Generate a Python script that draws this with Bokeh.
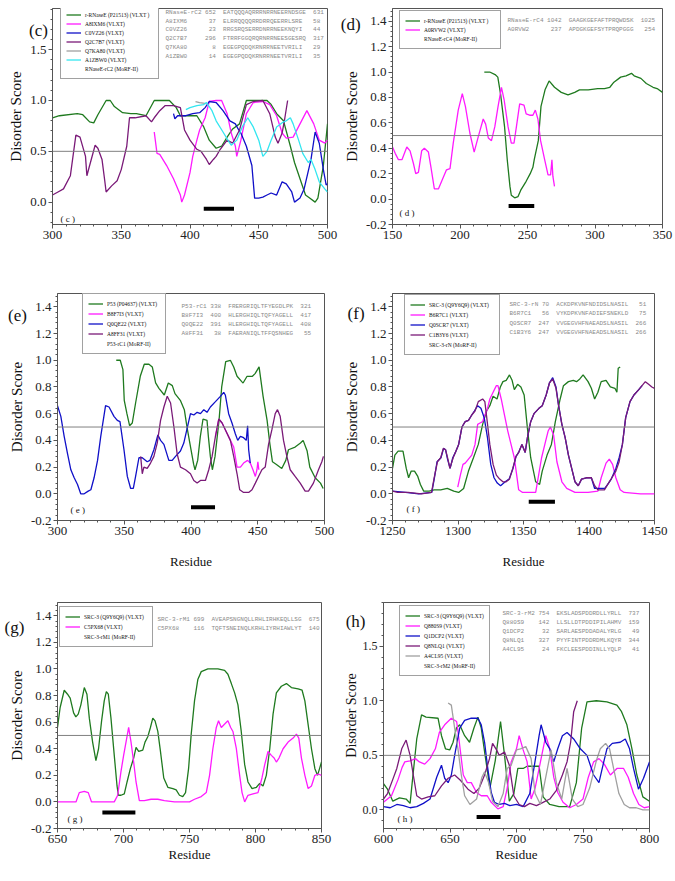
import numpy as np
from bokeh.plotting import figure
from bokeh.models import (Span, Label, Legend, LegendItem, FixedTicker,
                          PrintfTickFormatter, Range1d)
from bokeh.layouts import column, row
from bokeh.embed import file_html
from bokeh.resources import INLINE

# ---------------- DATA ----------------
# (c)
c_green_x = [300,305,318,322,327,330,333,339,342,345,351,357,361,368,374,385,390,393,397,405,410,414,419,423,427,431,436,441,456,459,463,468,473,476,480,484,487,491,493,497,500]
c_green_y = [0.83,0.85,0.87,0.86,0.79,0.78,0.86,1.0,1.0,0.94,0.88,0.87,0.87,0.85,1.0,1.0,0.93,0.85,0.85,0.85,0.74,0.61,0.53,0.55,0.64,0.72,0.77,1.0,1.0,0.96,0.87,0.80,0.55,0.39,0.23,0.07,0.04,0.0,0.04,0.36,0.77]
c_mag_x = [374,376,378,383,388,393,394,396,400,402,405,407,411,414,419,423,427,430,433,434,437,441,446,453,458,463,467,470,475,480,485,490,494,498,500]
c_mag_y = [0.69,0.48,0.47,0.36,0.23,0.07,0.0,0.07,0.29,0.45,0.61,0.71,0.83,0.99,1.0,1.0,0.87,0.68,0.55,0.45,0.61,0.87,0.98,0.99,0.96,0.85,0.68,0.63,0.64,0.77,0.90,0.77,0.61,0.58,0.61]
c_blue_x = [388,389,391,397,402,407,411,414,419,424,429,433,435,437,441,445,447,450,453,456,459,463,467,470,474,476,480,483,488,491,494,497,499,500]
c_blue_y = [0.87,0.82,0.85,0.85,0.87,0.88,0.93,0.99,0.98,0.90,0.80,0.77,0.72,0.68,0.55,0.36,0.04,0.04,0.05,0.07,0.09,0.07,0.20,0.18,0.10,0.0,0.04,0.13,0.42,0.69,0.58,0.32,0.17,0.18]
c_purp_x = [300,304,308,313,317,320,324,325,327,331,333,336,338,339,343,347,350,354,356,360,368,372,374,378,382,388,393,396,400,405,408,412,414,417,419,422,427,431,436,441,446,453,458,462,464,467,469,471]
c_purp_y = [0.07,0.10,0.13,0.26,0.66,0.64,0.45,0.26,0.36,0.56,0.53,0.42,0.21,0.10,0.16,0.21,0.32,0.55,0.83,0.83,0.85,0.79,0.83,0.90,0.95,0.95,0.93,0.71,0.61,0.52,0.50,0.42,0.37,0.42,0.45,0.52,0.61,0.58,0.71,0.96,0.99,1.0,0.87,0.64,0.58,0.68,0.83,1.0]
c_gray_x = [404,407,412]
c_gray_y = [0.99,0.98,0.97]
c_cyan_x = [397,400,405,410,412,416,419,424,428,430,434,438,442,446,450,453,456,459,463,468,470,473,475,479,482,486,488,491,494,498,500]
c_cyan_y = [0.91,0.93,0.95,0.96,0.98,0.90,0.80,0.69,0.60,0.56,0.61,0.74,0.83,0.74,0.61,0.45,0.50,0.61,0.74,0.79,0.80,0.83,0.77,0.61,0.48,0.39,0.42,0.32,0.20,0.13,0.10]
c_bar_x = [410, 432]
c_labels = ["r-RNaseE (P21513) (VLXT )", "A8IXM6 (VLXT)", "C0VZ26 (VLXT)", "Q2C7B7 (VLXT)",
            "Q7KA80 (VLXT)", "A1ZBW0 (VLXT)", "RNaseE-rC2 (MoRF-II)"]
c_align = ["RNaseE-rC2 652  EATQQQAQRRRNRRNEERNDSGE  631",
           "A8IXM6      37  ELRRQQQQRRDRRQEERRLSRE   58",
           "C0VZ26      23  RRGSRQSERRDNRRNEEKNQYI   44",
           "Q2C7B7     296  FTRRFGGQRQRNRRNEESGESRQ  317",
           "Q7KA80       8  EGEGPQDQKRNRRNEETVRILI   29",
           "A1ZBW0      14  EGEGPQDQKRNRRNEETVRILI   35"]

# (d)
d_green_x = [218,222,226,228,230,233,235,237,238,240.5,243,245,249,252,254,255,258,260,263,266,270,275,280,285,288.5,295,302,307,311,314,319,323,327,329,334,338,343,346,350]
d_green_y = [1.0,1.0,0.98,0.96,0.83,0.57,0.31,0.10,0.03,0.01,0.02,0.07,0.14,0.20,0.25,0.31,0.46,0.73,0.86,0.93,0.88,0.84,0.82,0.84,0.86,0.86,0.87,0.87,0.88,0.92,0.96,0.97,0.99,0.97,0.95,0.91,0.88,0.87,0.84]
d_mag_x = [150,152,154.4,157,160.6,163,165.5,167.2,169.2,171.6,173.6,176.6,178.5,181,184,186.4,190,192.6,195,198.7,201.7,204,207.3,210.5,213.5,217.2,219,221,223.3,225.8,228.2,230.7,232.7,235.6,238,240,241.8,244.2,247.4,249,251.6,254,255.8,257.7,259.7,262.7,265.2,267.1,268.1,268.8,270]
d_mag_y = [0.41,0.36,0.31,0.31,0.41,0.38,0.28,0.20,0.21,0.38,0.40,0.37,0.25,0.08,0.08,0.14,0.23,0.24,0.44,0.70,0.83,0.73,0.52,0.37,0.49,0.63,0.59,0.48,0.46,0.57,0.73,0.88,0.78,0.57,0.44,0.44,0.57,0.75,0.74,0.67,0.66,0.66,0.70,0.63,0.46,0.31,0.19,0.19,0.31,0.18,0.10]
d_bar_x = [236, 255]
d_labels = ["r-RNaseE (P21513) (VLXT )", "A0RVW2 (VLXT)", "RNaseE-rC4 (MoRF-II)"]
d_align = ["RNaseE-rC4 1042  GAAGKGEFAFTPRQWDSK  1025",
           "A0RVW2      237  APDGKGEFSYTPRQPGGG   254"]

# (e)
e_green_x = [344,347,349,350,352,354,356,358.5,362,365,368.5,371,373.5,376,380,383,386,388,392,395,397,400,402,403,405,407,409,412,413,414.5,416,418,421,423,426,429.5,432,434.5,438,439,442,446,448,451,454,457,459,461,464,468,471,473,478,482,484,487,489,493,497,499]
e_green_y = [1.0,1.0,0.93,0.70,0.60,0.51,0.53,0.68,0.88,0.97,0.97,0.95,0.83,0.79,0.74,0.83,0.81,0.75,0.70,0.63,0.50,0.33,0.22,0.18,0.25,0.43,0.56,0.55,0.43,0.28,0.18,0.28,0.55,0.80,0.99,1.0,0.95,0.88,0.84,0.83,0.88,0.88,0.90,0.95,0.73,0.55,0.38,0.24,0.22,0.19,0.25,0.33,0.35,0.38,0.40,0.32,0.20,0.12,0.08,0.04]
e_mag_x = [418.3,420.8,423.3,425.7,429.5,432,434.5,437,439.4,442.4,444.4,446.4,448.2,449.4,450.1,450.8]
e_mag_y = [0.43,0.56,0.53,0.48,0.40,0.35,0.20,0.20,0.23,0.25,0.23,0.18,0.13,0.18,0.24,0.18]
e_blue_x = [300,302.5,305,307.5,310,312.5,315,317.4,320,323,325,327.4,330,332.4,336,338.6,342.3,344.8,346.8,349.8,352.3,354.8,356.8,358.5,361,363.5,367.2,369.2,372.2,375.2,377.2,379.7,383.4,385.9,388.4,392.1,394.6,397.1,399.6,402.1,404.6,407.1,409.6,412,414.5,418.3,422,424.5,425.7,428.2,430.7,433.2,435,437,439.4,441.4,442.4,443.2,444.4]
e_blue_y = [0.66,0.58,0.43,0.30,0.18,0.12,0.07,0.0,0.0,0.02,0.03,0.12,0.25,0.43,0.66,0.65,0.58,0.55,0.54,0.33,0.13,0.04,0.04,0.13,0.27,0.27,0.24,0.25,0.33,0.44,0.40,0.37,0.25,0.25,0.28,0.32,0.38,0.49,0.60,0.59,0.61,0.60,0.63,0.61,0.65,0.69,0.73,0.76,0.74,0.60,0.53,0.45,0.40,0.43,0.42,0.40,0.51,0.33,0.23]
e_purp_x = [362.3,363.5,364.7,367.2,369.7,372.2,374.7,377.2,379.7,382.2,384.7,387.2,389.6,392.1,395.9,399.6,402.1,404.6,407.1,410.8,413.3,415.8,418.3,420.8,423.3,425.7,429.5,432,434.5,436.5,439.4,443.2,445.7,448.2,450.6,453.1,455.6,458.1,460.6,463.1,464.8,466.8,469.3,471.8,474.3,478,481.8,485.5,488,491.7,495.5,498,499.2]
e_purp_y = [0.28,0.15,0.20,0.19,0.23,0.28,0.38,0.55,0.65,0.73,0.68,0.50,0.30,0.20,0.18,0.15,0.10,0.08,0.10,0.10,0.18,0.28,0.43,0.56,0.53,0.48,0.40,0.28,0.15,0.03,0.01,0.01,0.03,0.08,0.13,0.18,0.20,0.37,0.48,0.60,0.63,0.58,0.40,0.28,0.18,0.13,0.08,0.02,0.02,0.08,0.18,0.24,0.28]
e_bar_x = [400, 418]
e_labels = ["P53 (P04637) (VLXT)", "B8F7I3 (VLXT)", "Q0QE22 (VLXT)", "A8FF31 (VLXT)", "P53-rC1 (MoRF-II)"]
e_align = ["P53-rC1 338  FRERGRIQLTFYEGDLPK  321",
           "B8F7I3  400  HLERGHIQLTQFYAGELL  417",
           "Q0QE22  391  HLERGHIQLTQFYAGELL  408",
           "A8FF31   38  FAERANIQLTFFQSNHEG   55"]

# (f)
f_green_x = [1250,1251.8,1254.3,1258,1260.5,1262.3,1264.3,1266.8,1269.3,1271.3,1273.8,1278,1281.8,1286.8,1291.8,1296.8,1300.5,1304.3,1308,1311.8,1315.5,1318.8,1321.8,1324.3,1326.8,1329.8,1332.3,1334.3,1336.8,1339.3,1341.3,1343,1345.5,1348,1350.5,1353,1355.5,1359.3,1362.3,1364.3,1368,1371.3,1374.3,1378,1380.5,1384.3,1388,1390.5,1393,1395.5,1399.3,1401.8,1404.3,1406.8,1409.3,1413,1416.3,1419.8,1421.3,1422.3,1423.8]
f_green_y = [0.19,0.29,0.32,0.32,0.19,0.12,0.17,0.17,0.13,0.07,0.02,0.02,0.03,0.03,0.04,0.02,0.01,0.04,0.17,0.27,0.37,0.52,0.62,0.66,0.73,0.71,0.80,0.84,0.85,0.89,0.85,0.78,0.82,0.80,0.74,0.49,0.27,0.09,0.07,0.17,0.29,0.37,0.54,0.71,0.81,0.84,0.85,0.84,0.86,0.89,0.84,0.79,0.71,0.76,0.84,0.85,0.80,0.79,0.76,0.94,0.95]
f_mag_x = [1299.8,1301.8,1303.8,1305.5,1308,1310.5,1313,1315,1316.8,1318.8,1320.5,1322.3,1324.3,1326.8,1329.3,1330.5,1333,1335.5,1338,1340.5,1343,1344.8,1346.3,1349.3,1354.3,1359.3,1363.8,1366.8,1368.8,1370.5,1373,1375.5,1379.3,1383,1389.3,1399.3,1406.8,1409.3,1413,1415.5,1418,1420.5,1423.8,1426.8,1439.3,1450]
f_mag_y = [0.05,0.14,0.22,0.23,0.26,0.29,0.37,0.52,0.53,0.54,0.59,0.63,0.71,0.76,0.81,0.81,0.71,0.59,0.47,0.37,0.27,0.14,0.03,0.01,0.01,0.01,0.27,0.39,0.47,0.50,0.44,0.24,0.09,0.04,0.01,0.01,0.02,0.12,0.23,0.26,0.22,0.12,0.03,0.01,0.0,0.0]
f_blue_x = [1250,1260,1270,1280,1282,1284,1287,1289,1290.5,1292,1294,1296,1298,1300.5,1303,1305.5,1308,1310.5,1312.5,1315,1317.5,1320,1322.5,1325,1327.5,1330,1332.5,1336,1339,1342,1344.3,1346.3,1348.8,1351.3,1353,1355.5,1358,1361.8,1364.3,1367.3,1369.8,1372.3,1374.8,1376.8,1379.3,1381.8,1384.3,1387.3,1389.3,1391.8,1394.3,1398,1401.8,1404.3,1408,1412,1414.3,1417,1420.5,1423,1425.5,1428,1431.3,1434.3,1438,1440.5]
f_blue_y = [0.02,0.01,0.0,0.01,0.12,0.24,0.27,0.34,0.33,0.26,0.19,0.27,0.31,0.37,0.50,0.54,0.55,0.59,0.62,0.66,0.64,0.57,0.42,0.22,0.12,0.08,0.06,0.09,0.11,0.19,0.28,0.31,0.37,0.31,0.42,0.54,0.60,0.64,0.66,0.74,0.83,0.87,0.80,0.66,0.52,0.42,0.29,0.17,0.09,0.06,0.11,0.12,0.12,0.04,0.04,0.04,0.07,0.11,0.19,0.27,0.37,0.57,0.69,0.74,0.78,0.81]
f_purp_x = [1250,1254,1262,1272,1279.8,1281.8,1284.3,1286.8,1288.8,1290.5,1292.3,1293.8,1296.3,1298,1300.5,1303,1305.5,1308,1310.5,1313,1315.5,1318.8,1320.5,1322.3,1324.3,1326.8,1329.3,1331.8,1334.3,1336.8,1339.3,1341.8,1344.3,1346.3,1348.8,1351.3,1353,1355.5,1358,1361.8,1364.3,1367.3,1369.8,1372.3,1374.8,1376.8,1379.3,1381.8,1384.3,1387.3,1389.3,1391.8,1394.3,1398,1401.8,1404.3,1406.8,1411.8,1414.3,1416.8,1420.5,1423,1425.5,1428,1431.3,1434.3,1438,1440.5,1443,1445.5,1448,1450]
f_purp_y = [0.02,0.01,0.01,0.0,0.01,0.12,0.24,0.27,0.34,0.33,0.26,0.19,0.27,0.31,0.37,0.50,0.54,0.55,0.59,0.62,0.69,0.71,0.69,0.54,0.37,0.22,0.14,0.11,0.09,0.09,0.11,0.19,0.28,0.31,0.37,0.31,0.42,0.54,0.60,0.64,0.66,0.74,0.83,0.86,0.79,0.66,0.52,0.42,0.29,0.17,0.09,0.06,0.11,0.12,0.12,0.06,0.03,0.03,0.07,0.11,0.17,0.24,0.37,0.57,0.69,0.74,0.78,0.81,0.84,0.82,0.80,0.79]
f_bar_x = [1354, 1374]
f_labels = ["SRC-3 (Q9Y6Q9) (VLXT)", "B6R7C1 (VLXT)", "Q0SCR7 (VLXT)", "C1B3Y6 (VLXT)", "SRC-3-rN (MoRF-II)"]
f_align = ["SRC-3-rN 70  ACKDPKVNFNDIDSLNASIL   51",
           "B6R7C1   56  VYKDPKVNFADIEFSNEKLD   75",
           "Q0SCR7  247  VVGEGVHFNAEADSLNASIL  266",
           "C1B3Y6  247  VVGEGVHFNAEADSLNASIL  266"]

# (g)
g_green_x = [650,652,655.1,657.6,659.6,662.2,663.9,665.7,667.7,670.3,672.3,674.1,676.6,679.1,681.1,683.4,685.4,687,688.5,690.5,693,695.1,696.1,698.1,700.6,702.7,705.2,707.7,709.5,711.5,714.6,716.3,718.4,720.4,722.2,723.9,726,728,730.5,733.6,737.4,739.9,742.4,744.9,747,749.3,751.3,753.8,756.3,758.9,763.9,771.5,776.6,779.1,781.7,784.2,786.7,789.2,791.8,794.3,797.4,800.7,803.2,805.7,808.2,810.8,813.3,815.8,819.6,823.4,827.2,832.3,835.3,837.4,839.9,842.4,845,847,848.8,850]
g_green_y = [0.56,0.71,0.84,0.81,0.78,0.67,0.64,0.66,0.73,0.86,0.81,0.63,0.45,0.31,0.40,0.61,0.76,0.83,0.81,0.63,0.35,0.12,0.05,0.05,0.06,0.15,0.25,0.33,0.41,0.38,0.39,0.45,0.49,0.56,0.63,0.61,0.53,0.38,0.18,0.11,0.10,0.09,0.05,0.04,0.07,0.25,0.51,0.76,0.92,0.98,1.0,1.0,0.99,0.96,0.89,0.82,0.73,0.53,0.28,0.15,0.10,0.11,0.14,0.12,0.20,0.40,0.66,0.82,0.87,0.89,0.86,0.85,0.84,0.76,0.58,0.40,0.25,0.20,0.26,0.30]
g_mag_x = [650,658,664,666.5,670.3,673.3,675.8,682.9,693,695.6,698.1,700.1,701.9,703.9,705.7,707.7,709.5,712,715.8,720.9,726,731,738.6,746.2,750,753.8,758.9,762.7,765.2,767.7,770.3,772,774.1,776.1,779.1,781.2,782.9,785.5,788,789.8,791.8,794.3,798.1,801.9,804.9,807,809.5,812,814.1,815.8,817.8,820.9,824.7,828.5,831,832.8,834.8,837.4,839.9,842.4,845,847.5,850]
g_mag_y = [0.0,0.0,0.0,0.07,0.08,0.07,0.0,0.0,0.0,0.05,0.23,0.35,0.45,0.56,0.45,0.30,0.15,0.01,0.01,0.02,0.02,0.01,0.0,0.0,0.0,0.02,0.04,0.07,0.20,0.40,0.56,0.61,0.56,0.58,0.61,0.56,0.53,0.40,0.20,0.07,0.0,0.05,0.06,0.07,0.18,0.28,0.38,0.35,0.33,0.30,0.33,0.40,0.45,0.48,0.51,0.48,0.33,0.20,0.10,0.12,0.20,0.21,0.20]
g_bar_x = [684, 709]
g_labels = ["SRC-3 (Q9Y6Q9) (VLXT)", "C5PX68 (VLXT)", "SRC-3-rM1 (MoRF-II)"]
g_align = ["SRC-3-rM1 699  AVEAPSNGNQLLRHLIRHKEQLLSG  675",
           "C5PX68    116  TQFTSNEINQLKRHLIYRHIAWLYT  140"]

# (h)
h_green_x = [600,603,607,612,617,620,622,625,628.6,632,641,643.6,646.6,649.8,652.3,654.8,657.3,661,664.7,668,671,673.5,676.4,680,684,688,691,694.6,698,701,705,708,713,717,720,725,732,740,745,749,753,760,768,775.5,779,783,786.8,790.5,795,800]
h_green_y = [0.24,0.19,0.08,0.11,0.10,0.06,0.30,0.65,0.87,0.85,0.84,0.68,0.56,0.55,0.62,0.75,0.78,0.68,0.62,0.75,0.85,0.75,0.50,0.20,0.45,0.81,0.50,0.08,0.15,0.38,0.38,0.40,0.40,0.40,0.12,0.05,0.03,0.03,0.25,0.75,0.99,1.0,0.99,0.96,0.90,0.78,0.56,0.32,0.12,0.08]
h_mag_x = [600,603,606,611,614,616,620,624,627,631,635,639,642,646,651,655,657,660,663,666,670,673.5,678,681,686,690,693,696,700,702,705,708,711,714,718,722,725,728,731,735,740,745,750,754,758,762,766,770.6,775.5,780.5,784,788,792,796,800]
h_mag_y = [0.07,0.10,0.13,0.28,0.39,0.44,0.45,0.47,0.44,0.42,0.47,0.56,0.71,0.78,0.84,0.81,0.62,0.32,0.25,0.25,0.16,0.13,0.13,0.07,0.01,0.03,0.20,0.44,0.56,0.68,0.55,0.44,0.10,0.20,0.44,0.68,0.56,0.30,0.16,0.07,0.02,0.05,0.10,0.30,0.44,0.47,0.42,0.32,0.38,0.38,0.30,0.15,0.05,0.02,0.03]
h_blue_x = [600,605,610,615,620,625,630,635,640,643.6,646,648.6,651,653.5,657.3,661,666,671,673.5,676,678.4,681,683.4,687,691,695,700,705,710,714,717,718.5,722,725,728,731,734.5,738,743,748,753,758,762,765.6,768,772,778,781.8,785,788,791.7,795.5,800]
h_blue_y = [0.03,0.02,0.05,0.04,0.02,0.03,0.06,0.10,0.30,0.41,0.29,0.25,0.32,0.50,0.75,0.82,0.84,0.84,0.78,0.62,0.38,0.16,0.07,0.05,0.06,0.04,0.05,0.03,0.15,0.45,0.68,0.78,0.62,0.56,0.44,0.56,0.68,0.71,0.65,0.56,0.50,0.32,0.25,0.44,0.56,0.61,0.62,0.65,0.56,0.38,0.19,0.29,0.44]
h_purp_x = [600,603,607,610,613.7,617,620,622.4,625,628.6,633.6,638.6,643.6,648.6,653.5,658,663.5,668,672,676,679.7,682,685,687,691,694.6,698,702,706,710,715,720,725,730,734.5,738,740.7,743,745.7]
h_purp_y = [0.10,0.15,0.28,0.38,0.56,0.64,0.50,0.32,0.13,0.10,0.12,0.13,0.22,0.29,0.32,0.27,0.19,0.15,0.20,0.32,0.47,0.61,0.55,0.50,0.53,0.41,0.13,0.05,0.03,0.06,0.04,0.07,0.10,0.18,0.32,0.44,0.62,0.90,1.0]
h_gray_x = [648.6,651,653.5,656,658.5,661,665,670,674,676,679,682,686,690,693,696,700,703,707,711,714,718,722,726,730,734,738,742,746,750,755,760,763,767,770,773,777,781,785,790,795,800]
h_gray_y = [0.98,0.96,0.75,0.56,0.32,0.13,0.05,0.10,0.30,0.35,0.25,0.08,0.03,0.15,0.38,0.41,0.55,0.56,0.58,0.47,0.15,0.05,0.30,0.55,0.25,0.10,0.38,0.10,0.03,0.05,0.20,0.45,0.56,0.61,0.56,0.38,0.15,0.05,0.02,0.02,0.0,0.0]
h_bar_x = [670, 688]
h_labels = ["SRC-3 (Q9Y6Q9) (VLXT)", "Q880S9 (VLXT)", "Q1DCP2 (VLXT)", "Q8NLQ1 (VLXT)",
            "A4CL95 (VLXT)", "SRC-3-rM2 (MoRF-II)"]
h_align = ["SRC-3-rM2 754  EKSLADSPDDRDLLYRLL  737",
           "Q880S9    142  LLSLLDTPDDIPILAHMV  159",
           "Q1DCP2     32  SARLAESPDDADALYRLG   49",
           "Q8NLQ1    327  PYYFINTPDDRDMLKQYR  344",
           "A4CL95     24  FKCLEESPDDINLLYQLP   41"]

# ---------------- STYLE ----------------
GREEN = "#1f7a1f"
MAG = "#ff1aff"
BLUE = "#1010c8"
PURP = "#7a1a78"
GRAY = "#a0a0a0"
CYAN = "#33e6f0"
SERIF = "Liberation Serif"
MONO = "Liberation Mono"
NBSP = "\u00a0"


def make_panel(spec):
    w, h = spec["size"]
    bl, br, bt, bb = spec["borders"]
    fh = h - bt - bb
    fw = w - bl - br
    x0, x1 = spec["xr"]
    y0, y1 = spec["yr"]
    p = figure(width=w, height=h, output_backend="svg", toolbar_location=None, title=None,
               x_range=Range1d(x0, x1), y_range=Range1d(y0, y1),
               min_border_left=bl, min_border_right=br,
               min_border_top=bt, min_border_bottom=bb)
    p.xgrid.visible = False
    p.ygrid.visible = False
    p.outline_line_color = "#555555"
    p.outline_line_width = 1
    p.background_fill_color = "white"
    p.border_fill_color = "white"

    p.xaxis.ticker = FixedTicker(ticks=list(np.arange(x0, x1 + 1, 50)),
                                 minor_ticks=list(np.arange(x0, x1 + 1, 10)))
    p.yaxis.ticker = FixedTicker(ticks=spec["yticks"], minor_ticks=spec["yminor"])
    p.yaxis.formatter = PrintfTickFormatter(format="%.1f")
    for ax in (p.xaxis[0], p.yaxis[0]):
        ax.major_label_text_font = SERIF
        ax.major_label_text_color = "#222222"
        ax.axis_line_color = "#555555"
        ax.major_tick_line_color = "#555555"
        ax.minor_tick_line_color = "#555555"
        ax.major_tick_in = 0
        ax.major_tick_out = 4
        ax.minor_tick_in = 0
        ax.minor_tick_out = 2
        ax.major_label_standoff = 2
        ax.axis_label_text_font = SERIF
        ax.axis_label_text_font_style = "normal"
        ax.axis_label_text_color = "#111111"
    p.yaxis.major_label_text_font_size = spec.get("yfs", "13px")
    p.xaxis.major_label_text_font_size = "13px"
    p.yaxis.axis_label = "Disorder Score"
    p.yaxis.axis_label_text_font_size = spec.get("ylfs", "15px")
    p.yaxis.axis_label_standoff = spec.get("ylstand", 3)
    if spec.get("xlabel"):
        p.xaxis.axis_label = "Residue"
        p.xaxis.axis_label_text_font_size = "13px"
        p.xaxis.axis_label_standoff = spec["xlstand"]

    p.add_layout(Span(location=0.5, dimension="width", line_color="#808080", line_width=1))

    items = []
    for (xs, ys, col), lab in zip(spec["series"], spec["labels"][:-1]):
        r = p.line(xs, ys, line_color=col, line_width=1.3)
        items.append(LegendItem(label=lab, renderers=[r]))
    bx = spec["bar"]
    p.line(bx, [spec["bary"]] * len(bx), line_color="black", line_width=4)
    rm = p.scatter(x=[], y=[], marker="square", size=3, color="black")
    items.append(LegendItem(label=spec["labels"][-1], renderers=[rm]))

    n = len(items)
    pad = 5
    eh = 9
    sp = spec["legsp"]
    lh = 2 * pad + n * eh + (n - 1) * sp
    ldx, ldy = spec["legpos"]
    leg = Legend(items=items, location=(ldx, fh - ldy - lh), label_text_font=SERIF,
                 label_text_font_size="5.5px", label_text_color="#111111",
                 glyph_width=15, glyph_height=eh, label_height=eh, label_standoff=4,
                 spacing=sp, padding=pad, margin=0, border_line_color="#444444",
                 border_line_width=1, background_fill_alpha=1.0,
                 label_width=spec["legw"])
    p.add_layout(leg)

    # alignment text block
    tdx, tdy = spec["textpos"]
    for i, line in enumerate(spec["align"]):
        p.add_layout(Label(x=tdx, y=fh - tdy - i * spec["textsp"], x_units="screen",
                           y_units="screen", text=line.replace(" ", NBSP), text_font=MONO,
                           text_font_size="6px", text_color="#8a8a8a",
                           text_baseline="middle", text_align="left"))
    # panel letter outside the frame (placed in a side panel so it is not clipped)
    pdx, pdy = spec["letterpos"]
    lx = x0 + pdx * (x1 - x0) / fw
    ly = y1 - pdy * (y1 - y0) / fh
    p.add_layout(Label(x=lx, y=ly, text="(" + spec["letter"] + ")", text_font=SERIF,
                       text_font_size="17px", text_color="#111111",
                       text_baseline="middle", text_align="center"), spec["letterside"])
    # letter inside
    idx, idy = spec["innerpos"]
    p.add_layout(Label(x=idx, y=idy, x_units="screen", y_units="screen",
                       text="( " + spec["letter"] + " )", text_font=SERIF,
                       text_font_size="9px", text_color="#111111",
                       text_baseline="middle", text_align="left"))
    return p


TICK_A = [0.0, 0.5, 1.0, 1.5]
MINOR_A = [round(v, 2) for v in np.arange(-0.2, 1.95, 0.1)]
TICK_B = [-0.2, 0.0, 0.2, 0.4, 0.6, 0.8, 1.0, 1.2, 1.4]
MINOR_B = [round(v, 3) for v in np.arange(-0.2, 1.51, 0.04)]

specs = {
    "c": dict(size=(340, 270), borders=(52, 13, 5, 43), xr=(300, 500), yr=(-0.22, 1.905),
              yticks=TICK_A, yminor=MINOR_A, letterside="below",
              series=[(c_green_x, c_green_y, GREEN), (c_mag_x, c_mag_y, MAG),
                      (c_blue_x, c_blue_y, BLUE), (c_purp_x, c_purp_y, PURP),
                      (c_gray_x, c_gray_y, GRAY), (c_cyan_x, c_cyan_y, CYAN)],
              labels=c_labels, bar=c_bar_x, bary=-0.065, legpos=(8, 4), legsp=0, legw=68,
              align=c_align, textpos=(113, 10), textsp=8.7, letter="c",
              letterpos=(-14, 23), innerpos=(8, 6)),
    "d": dict(size=(335, 270), borders=(51, 13, 8, 46), xr=(150, 350), yr=(-0.2, 1.5),
              yticks=TICK_B, yminor=MINOR_B, letterside="below",
              series=[(d_green_x, d_green_y, GREEN), (d_mag_x, d_mag_y, MAG)],
              labels=d_labels, bar=d_bar_x, bary=-0.055, legpos=(7, 4), legsp=0, legw=71,
              align=d_align, textpos=(115, 12), textsp=8.7, letter="d",
              letterpos=(-42, 16), innerpos=(7, 12)),
    "e": dict(size=(340, 308), borders=(57, 16, 23, 57), xr=(300, 500), yr=(-0.2, 1.5),
              yticks=TICK_B, yminor=MINOR_B, xlabel=True, xlstand=16,
              letterside="above",
              series=[(e_green_x, e_green_y, GREEN), (e_mag_x, e_mag_y, MAG),
                      (e_blue_x, e_blue_y, BLUE), (e_purp_x, e_purp_y, PURP)],
              labels=e_labels, bar=e_bar_x, bary=-0.1, legpos=(25, 3), legsp=1, legw=53,
              align=e_align, textpos=(124, 14), textsp=9, letter="e",
              letterpos=(-40, 22), innerpos=(13, 11)),
    "f": dict(size=(335, 308), borders=(48, 21, 23, 58), xr=(1250, 1450), yr=(-0.2, 1.5),
              yticks=TICK_B, yminor=MINOR_B, xlabel=True, xlstand=16,
              letterside="above",
              series=[(f_green_x, f_green_y, GREEN), (f_mag_x, f_mag_y, MAG),
                      (f_blue_x, f_blue_y, BLUE), (f_purp_x, f_purp_y, PURP)],
              labels=f_labels, bar=f_bar_x, bary=-0.06, legpos=(12, 3), legsp=1, legw=65,
              align=f_align, textpos=(117, 11), textsp=9.3, letter="f",
              letterpos=(-37, 20), innerpos=(14, 12)),
    "g": dict(size=(340, 292), borders=(57, 19, 24, 42), xr=(650, 850), yr=(-0.2, 1.5),
              yticks=TICK_B, yminor=MINOR_B, xlabel=True, xlstand=1,
              letterside="above",
              series=[(g_green_x, g_green_y, GREEN), (g_mag_x, g_mag_y, MAG)],
              labels=g_labels, bar=g_bar_x, bary=-0.08, legpos=(2, 6), legsp=1, legw=63,
              align=g_align, textpos=(100, 17), textsp=9, letter="g",
              letterpos=(-43, 25), innerpos=(10, 10)),
    "h": dict(size=(335, 292), borders=(42, 26, 24, 42), xr=(600, 800), yr=(-0.17, 1.9),
              yticks=TICK_A, yminor=MINOR_A, xlabel=True, xlstand=1,
              letterside="above", yfs="12px", ylfs="14px", ylstand=1,
              series=[(h_green_x, h_green_y, GREEN), (h_mag_x, h_mag_y, MAG),
                      (h_blue_x, h_blue_y, BLUE), (h_purp_x, h_purp_y, PURP),
                      (h_gray_x, h_gray_y, GRAY)],
              labels=h_labels, bar=h_bar_x, bary=-0.065, legpos=(16, 5), legsp=1, legw=58,
              align=h_align, textpos=(119, 11), textsp=9, letter="h",
              letterpos=(-28, 19), innerpos=(14, 10)),
}

panels = {k: make_panel(v) for k, v in specs.items()}
layout = column(row(panels["c"], panels["d"]),
                row(panels["e"], panels["f"]),
                row(panels["g"], panels["h"]))

open("out.html", "w").write(file_html(layout, INLINE))
